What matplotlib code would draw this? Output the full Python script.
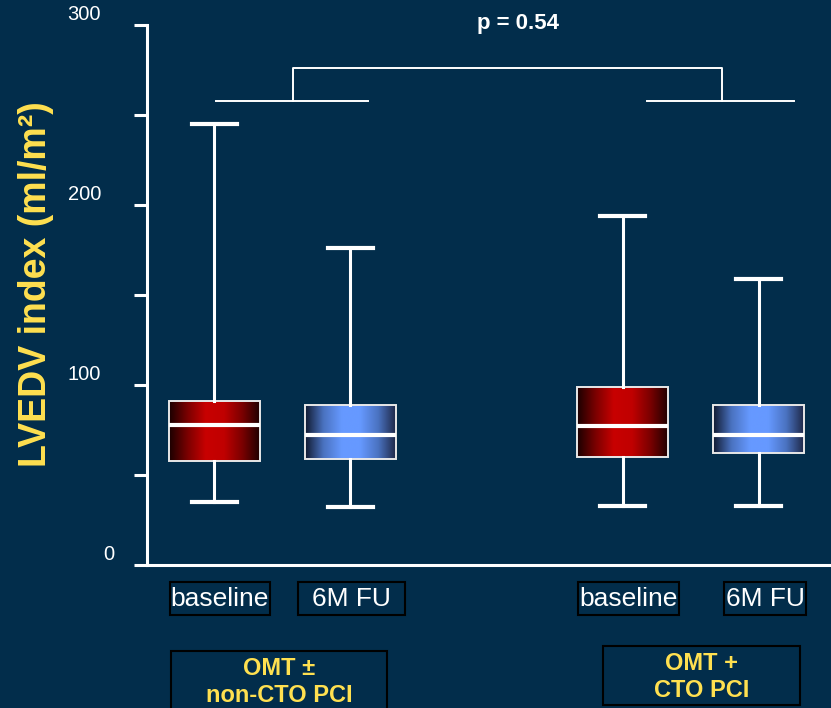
import numpy as np
import matplotlib
matplotlib.use("Agg")
import matplotlib.pyplot as plt
from matplotlib.colors import LinearSegmentedColormap
from matplotlib.patches import Rectangle

plt.rcParams['font.family'] = ['Liberation Sans', 'DejaVu Sans']

# ---- data ----
timepoints = ["baseline", "6M FU", "baseline", "6M FU"]
groups = ["OMT \u00b1\nnon-CTO PCI", "OMT +\nCTO PCI"]
whislo = [35, 32, 33, 33]
q1 = [58, 59, 60, 62]
med = [78, 72, 77, 72]
q3 = [91, 89, 99, 89]
whishi = [245, 176, 194, 159]
yticks_major = [0, 100, 200, 300]
yticks_all = [0, 50, 100, 150, 200, 250, 300]
p_text = "p = 0.54"
ylabel = "LVEDV index (ml/m\u00b2)"

BG = "#022D4B"
YEL = "#FFE050"
W, H = 831, 708

fig = plt.figure(figsize=(W / 100, H / 100), dpi=100, facecolor=BG)
ax = fig.add_axes([147 / W, 143 / H, 684 / W, 540 / H])
ax.set_facecolor(BG)

positions = [1, 2, 4, 5]
stats = []
for i in range(4):
    stats.append(dict(whislo=whislo[i], q1=q1[i], med=med[i], q3=q3[i],
                      whishi=whishi[i], fliers=[], label=timepoints[i]))

bp = ax.bxp(stats, positions=positions, widths=0.67, patch_artist=True,
            showfliers=False,
            boxprops=dict(facecolor='none', edgecolor='#e8e8e8', linewidth=1.4),
            medianprops=dict(color='white', linewidth=3),
            whiskerprops=dict(color='white', linewidth=2.2),
            capprops=dict(color='white', linewidth=3),
            capwidths=0.33, zorder=3)

red_cmap = LinearSegmentedColormap.from_list("r", ["#1a0000", "#7a0000", "#c80000", "#c00000", "#7a0000", "#1a0000"])
blue_cmap = LinearSegmentedColormap.from_list("b", ["#101a30", "#4a72c0", "#6699ff", "#6699ff", "#4a72c0", "#1c2440"])
grad = np.linspace(0, 1, 256).reshape(1, -1)
for i, box in enumerate(bp['boxes']):
    cmap = red_cmap if timepoints[i] == "baseline" else blue_cmap
    x0 = positions[i] - 0.335
    im = ax.imshow(grad, cmap=cmap, aspect='auto',
                   extent=[x0, x0 + 0.67, q1[i], q3[i]], zorder=2, interpolation='bicubic')
    im.set_clip_path(box)

ax.set_xlim(0.507, 5.53)
ax.set_ylim(0, 300)

for s in ['top', 'right']:
    ax.spines[s].set_visible(False)
for s in ['left', 'bottom']:
    ax.spines[s].set_color('white')
    ax.spines[s].set_linewidth(2.2)
ax.set_xticks([])
ax.set_yticks(yticks_all)
ax.set_yticklabels([])
ax.tick_params(axis='y', colors='white', length=9.5, width=2.2, direction='out')

# tick label right edges (pixels) as in the reference
label_right_px = {0: 114, 100: 101, 200: 101, 300: 101}
for v in yticks_major:
    dx_pt = (label_right_px[v] - 147) * 0.72
    ax.annotate(str(v), xy=(0, v), xycoords=('axes fraction', 'data'),
                xytext=(dx_pt, 7.5), textcoords='offset points',
                ha='right', va='center', color='white', fontsize=14.5)

ax.set_ylabel(ylabel, color=YEL, fontsize=27, fontweight='bold', va='center')
ax.yaxis.set_label_coords(-111 / 684, 0.52)

# significance bracket
lw_b = 1.4
ax.plot([1.015, 2.13], [258, 258], color='white', lw=lw_b, clip_on=False)
ax.plot([4.18, 5.26], [258, 258], color='white', lw=lw_b, clip_on=False)
ax.plot([1.58, 1.58, 4.73, 4.73], [258, 276, 276, 258], color='white', lw=lw_b, clip_on=False)
fig.text(518 / W, 1 - 23 / H, p_text, color='white', fontsize=16,
         fontweight='bold', ha='center', va='center')

def fx(x):
    return x / W

def fy(y):
    return 1 - y / H

# timepoint label boxes
tp_boxes = [(170, 270), (298, 405), (578, 679), (724, 806)]
for (x0, x1), lab in zip(tp_boxes, timepoints):
    fig.patches.append(Rectangle((fx(x0), fy(615)), (x1 - x0) / W, 33 / H,
                                 transform=fig.transFigure, facecolor='none',
                                 edgecolor='black', linewidth=1.5))
    fig.text(fx((x0 + x1) / 2), fy(599), lab, color='white', fontsize=19,
             ha='center', va='center')

# group label boxes
grp_boxes = [(171, 387, 651, 712, 682), (603, 800, 646, 705, 677)]
for (x0, x1, y0, y1, yc), lab in zip(grp_boxes, groups):
    fig.patches.append(Rectangle((fx(x0), fy(y1)), (x1 - x0) / W, (y1 - y0) / H,
                                 transform=fig.transFigure, facecolor='none',
                                 edgecolor='black', linewidth=1.5))
    fig.text(fx((x0 + x1) / 2), fy(yc), lab, color=YEL, fontsize=17,
             fontweight='bold', ha='center', va='center', linespacing=1.2)

fig.savefig("out.png", dpi=100, facecolor=BG)
